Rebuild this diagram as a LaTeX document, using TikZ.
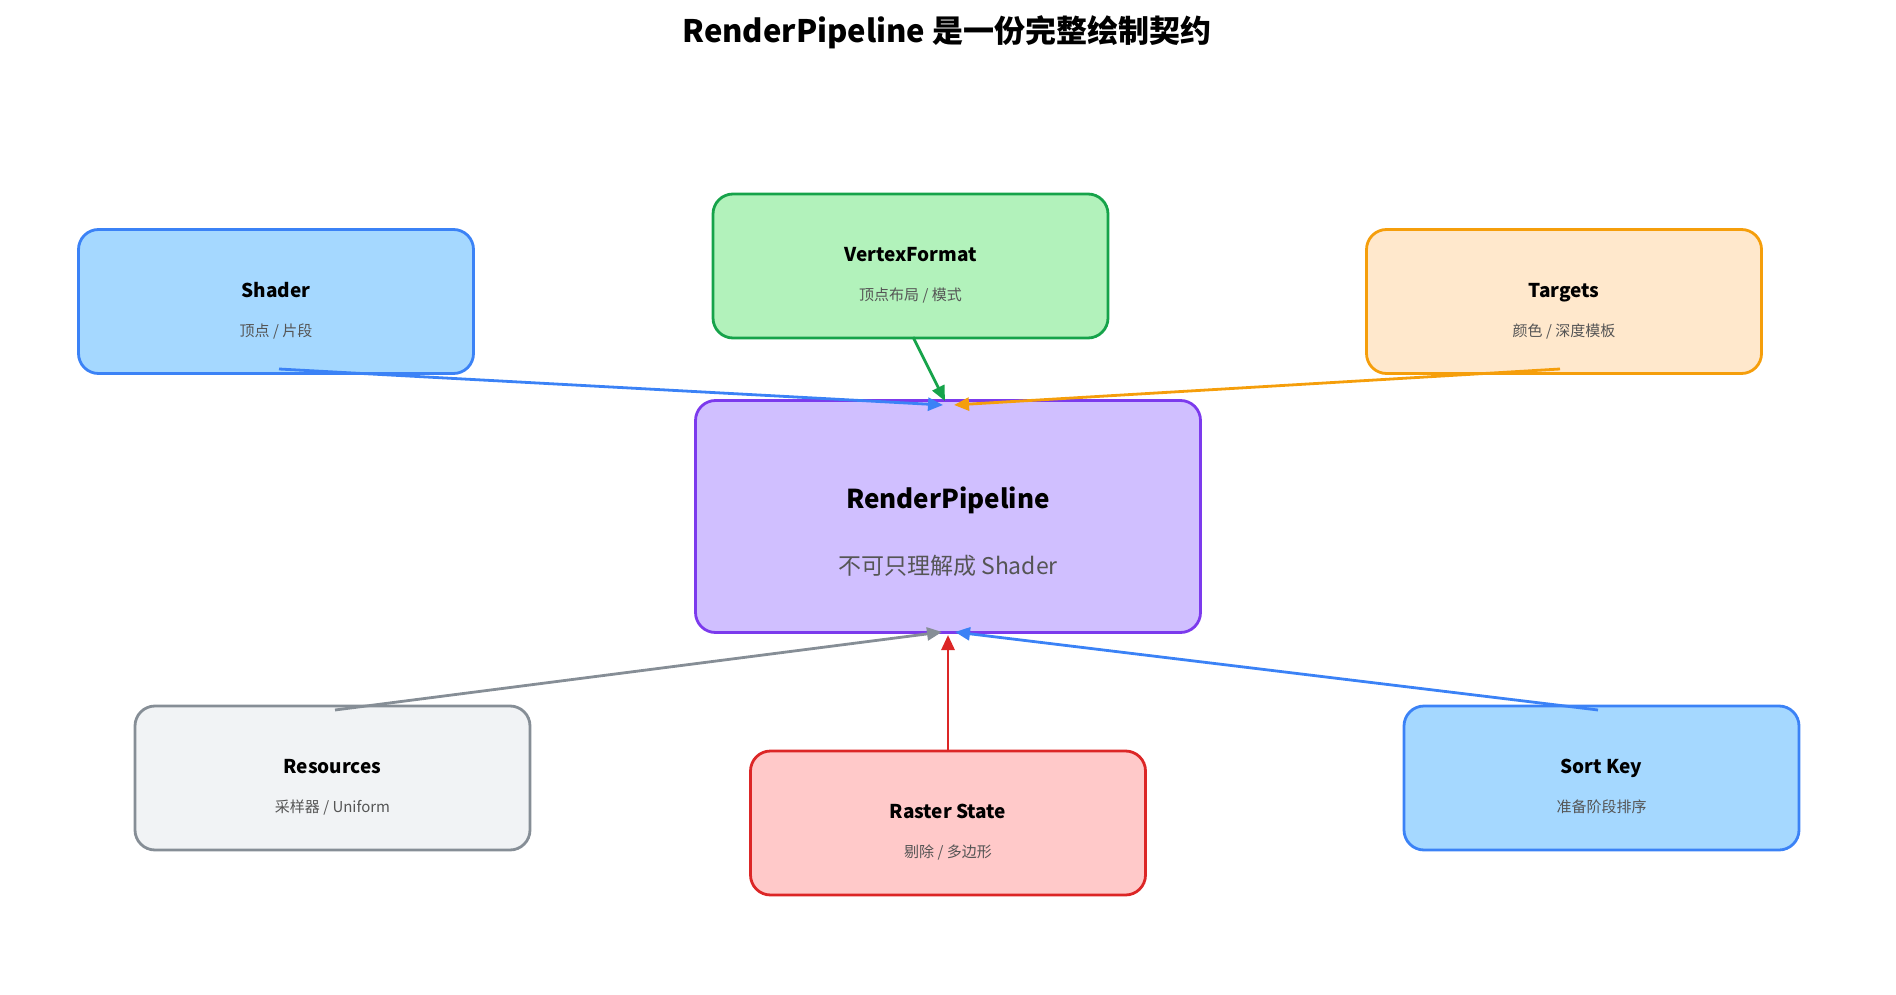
\documentclass[tikz,border=0pt]{standalone}
\usepackage{fontspec}
\setmainfont{Noto Sans CJK SC}
\usetikzlibrary{arrows.meta,calc}
\definecolor{blueS}{HTML}{3B82F6}
\definecolor{blueF}{HTML}{A5D8FF}
\definecolor{greenS}{HTML}{16A34A}
\definecolor{greenF}{HTML}{B2F2BB}
\definecolor{orangeS}{HTML}{F59E0B}
\definecolor{orangeF}{HTML}{FFE8CC}
\definecolor{purpleS}{HTML}{7C3AED}
\definecolor{purpleF}{HTML}{D0BFFF}
\definecolor{grayS}{HTML}{868E96}
\definecolor{grayF}{HTML}{F1F3F5}
\definecolor{redS}{HTML}{DC2626}
\definecolor{redF}{HTML}{FFC9C9}
\definecolor{subgray}{HTML}{555555}
\begin{document}
\begin{tikzpicture}[x=1pt,y=-1pt]
\tikzset{
  box/.style={draw, line width=2.8pt, rounded corners=20pt, minimum width=395pt, minimum height=144pt, inner sep=0pt},
  ttl/.style={font=\fontsize{19}{22}\selectfont\bfseries, anchor=base, inner sep=0pt},
  subt/.style={font=\fontsize{15}{18}\selectfont, text=subgray, anchor=base, inner sep=0pt},
  conn/.style={line width=2.8pt, -{Triangle[length=15pt,width=13pt]}},
}
\useasboundingbox (0,0) rectangle (1896,995);
\node[font=\fontsize{31}{35}\selectfont\bfseries, anchor=base, inner sep=0pt] (title) at (947,43) {RenderPipeline 是一份完整绘制契约};

\node[box, draw=blueS, fill=blueF] (shader) at (276,301.5) {};
\node[box, draw=greenS, fill=greenF] (vf) at (910.5,266) {};
\node[box, draw=orangeS, fill=orangeF] (targets) at (1564,301.5) {};
\node[box, draw=purpleS, fill=purpleF, minimum width=505pt, minimum height=232pt] (rp) at (948,516.5) {};
\node[box, draw=grayS, fill=grayF] (res) at (332.5,778) {};
\node[box, draw=redS, fill=redF] (raster) at (948,823) {};
\node[box, draw=blueS, fill=blueF] (sortkey) at (1601.5,778) {};

\node[ttl] (shaderT) at ($(shader.center)+(0,-4.5)$) {Shader};
\node[subt] (shaderS) at ($(shader.center)+(0,34.5)$) {顶点 / 片段};
\node[ttl] (vfT) at ($(vf.center)+(0,-4.5)$) {VertexFormat};
\node[subt] (vfS) at ($(vf.center)+(0,34.5)$) {顶点布局 / 模式};
\node[ttl] (targetsT) at ($(targets.center)+(0,-4.5)$) {Targets};
\node[subt] (targetsS) at ($(targets.center)+(0,34.5)$) {颜色 / 深度模板};
\node[ttl] (resT) at ($(res.center)+(0,-4.5)$) {Resources};
\node[subt] (resS) at ($(res.center)+(0,34.5)$) {采样器 / Uniform};
\node[ttl] (rasterT) at ($(raster.center)+(0,-4.5)$) {Raster State};
\node[subt] (rasterS) at ($(raster.center)+(0,34.5)$) {剔除 / 多边形};
\node[ttl] (sortkeyT) at ($(sortkey.center)+(0,-4.5)$) {Sort Key};
\node[subt] (sortkeyS) at ($(sortkey.center)+(0,34.5)$) {准备阶段排序};
\node[ttl, font=\fontsize{26}{30}\selectfont\bfseries] (rpT) at ($(rp.center)+(0,-8.5)$) {RenderPipeline};
\node[subt, font=\fontsize{23}{27}\selectfont] (rpS) at ($(rp.center)+(0,57.5)$) {不可只理解成 Shader};

\draw[conn, blueS] ($(shader.center)+(3,67.5)$) -- ($(rp.center)+(-5,-111.5)$);
\draw[conn, greenS] ($(vf.center)+(2.5,71)$) -- ($(rp.center)+(-3,-115.5)$);
\draw[conn, orangeS] ($(targets.center)+(-4,67.5)$) -- ($(rp.center)+(6,-111.5)$);
\draw[conn, grayS] ($(res.center)+(2.5,-68)$) -- ($(rp.center)+(-6,115.5)$);
\draw[conn, blueS] ($(sortkey.center)+(-3.5,-68)$) -- ($(rp.center)+(7,115.5)$);
\draw[conn, redS] ($(raster.center)+(0,-71)$) -- ($(rp.center)+(0,118.5)$);
\end{tikzpicture}
\end{document}
